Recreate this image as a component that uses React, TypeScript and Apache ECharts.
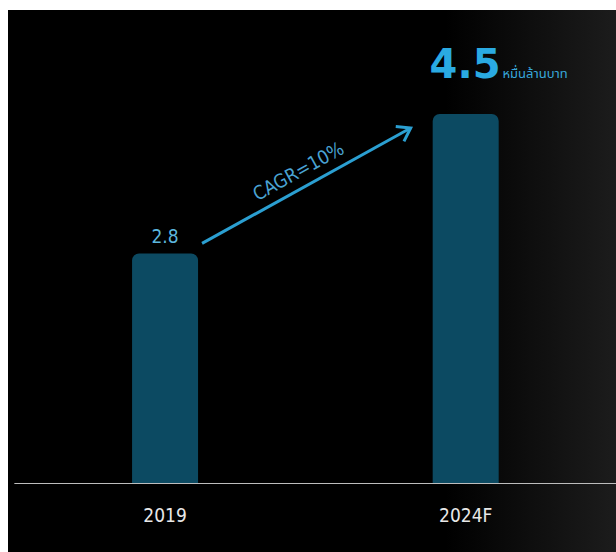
import React, { useEffect, useRef } from "react";
import * as echarts from "echarts";

const categories = ["2019", "2024F"];
const values = [2.8, 4.5];
const unitText = "หมื่นล้านบาท";
const cagrText = "CAGR=10%";

const NARROW = "'Liberation Sans Narrow', 'DejaVu Sans Condensed', 'Noto Sans', sans-serif";
const THAI = "'Noto Sans Thai', 'Noto Sans', 'DejaVu Sans', sans-serif";

export default function App() {
  const ref = useRef<HTMLDivElement>(null);
  useEffect(() => {
    if (!ref.current) return;
    const chart = echarts.init(ref.current, null, { renderer: "svg" });
    chart.setOption({
      animation: false,
      backgroundColor: "transparent",
      grid: { left: 6.75, right: -3.75, top: 63, bottom: 69 },
      xAxis: {
        type: "category",
        data: categories,
        axisLine: { lineStyle: { color: "#bdbdbd", width: 1 } },
        axisTick: { show: false },
        axisLabel: { color: "#e8e8e8", fontSize: 19, margin: 22, fontFamily: NARROW },
        splitLine: { show: false },
      },
      yAxis: { type: "value", min: 0, max: 5, show: false, splitLine: { show: false } },
      series: [
        {
          type: "bar",
          barWidth: 66,
          itemStyle: { color: "#0c4a62", borderRadius: [7, 7, 0, 0] },
          data: [
            {
              value: values[0],
              label: {
                show: true,
                position: "top",
                distance: 8,
                color: "#5cb6de",
                fontSize: 19,
                fontFamily: NARROW,
              },
            },
            {
              value: values[1],
              label: {
                show: true,
                position: "top",
                distance: 30,
                offset: [33, 0],
                formatter: () => `{big|${values[1]}}{unit|${unitText}}`,
                rich: {
                  big: {
                    color: "#2aaae2",
                    fontSize: 40,
                    fontWeight: "bold",
                    fontFamily: "'DejaVu Sans', sans-serif",
                    lineHeight: 40,
                    verticalAlign: "bottom",
                  },
                  unit: {
                    color: "#38a8dc",
                    fontSize: 13,
                    fontFamily: THAI,
                    lineHeight: 40,
                    verticalAlign: "bottom",
                    padding: [0, 0, 4, 2],
                  },
                },
              },
            },
          ],
        },
      ],
    });

    const p1 = chart.convertToPixel({ seriesIndex: 0 }, [0, values[0]]) as number[];
    const p2 = chart.convertToPixel({ seriesIndex: 0 }, [1, values[1]]) as number[];
    const sx = p1[0] + 37;
    const sy = p1[1] - 10;
    const ex = p2[0] - 55;
    const ey = p2[1] + 14;
    const ang = Math.atan2(ey - sy, ex - sx);
    const headLen = 15;
    const spread = 0.6;
    const h1 = [ex - headLen * Math.cos(ang - spread), ey - headLen * Math.sin(ang - spread)];
    const h2 = [ex - headLen * Math.cos(ang + spread), ey - headLen * Math.sin(ang + spread)];
    const mx = (sx + ex) / 2;
    const my = (sy + ey) / 2;
    const perp = 17;
    const tx = mx + perp * Math.sin(ang);
    const ty = my - perp * Math.cos(ang);
    const arrowColor = "#2b9fd1";

    chart.setOption({
      graphic: [
        {
          type: "line",
          shape: { x1: sx, y1: sy, x2: ex, y2: ey },
          style: { stroke: arrowColor, lineWidth: 3 },
        },
        {
          type: "polyline",
          shape: { points: [h1, [ex, ey], h2] },
          style: { stroke: arrowColor, lineWidth: 3, fill: null },
        },
        {
          type: "text",
          x: tx,
          y: ty,
          rotation: -ang,
          style: {
            text: cagrText,
            fill: "#4aa3d3",
            fontSize: 19,
            fontFamily: NARROW,
            align: "center",
            verticalAlign: "middle",
          },
        },
      ],
    });

    return () => chart.dispose();
  }, []);

  return (
    <div
      ref={ref}
      style={{
        position: "absolute",
        left: 8,
        top: 10,
        width: 608,
        height: 542,
        background:
          "linear-gradient(90deg, #000 0%, #000 72%, #080808 80%, #121212 90%, #1c1c1c 100%)",
      }}
    />
  );
}
